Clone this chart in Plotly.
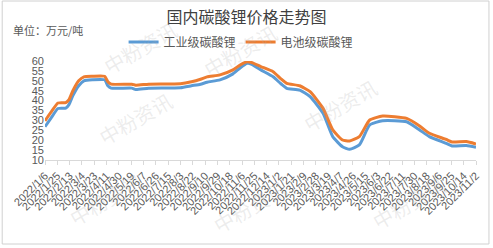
import plotly.graph_objects as go

dates = ["2022-01-06", "2022-01-15", "2022-01-26", "2022-02-07", "2022-02-12", "2022-02-18",
         "2022-02-27", "2022-03-07", "2022-03-20", "2022-04-08", "2022-04-13", "2022-04-18",
         "2022-05-20", "2022-05-26", "2022-06-15", "2022-08-03", "2022-08-20", "2022-09-03",
         "2022-09-13", "2022-10-03", "2022-10-23", "2022-11-03", "2022-11-14", "2022-11-20",
         "2022-12-05", "2022-12-24", "2023-01-05", "2023-01-14", "2023-02-03", "2023-02-19",
         "2023-03-11", "2023-03-26", "2023-04-10", "2023-04-21", "2023-05-06", "2023-05-22",
         "2023-06-11", "2023-07-18", "2023-08-07", "2023-08-22", "2023-09-17", "2023-09-26",
         "2023-10-18", "2023-11-02"]

industrial = [26.8, 31.0, 36.0, 36.2, 38.0, 42.5,
              47.5, 50.0, 50.5, 50.5, 47.5, 46.3,
              46.3, 45.6, 46.2, 46.5, 47.5, 48.3,
              49.3, 50.5, 53.5, 56.5, 58.8, 58.5,
              55.5, 52.0, 48.5, 46.2, 45.3, 42.0,
              33.6, 21.8, 16.7, 15.4, 17.6, 27.7,
              29.8, 29.3, 25.2, 21.8, 18.4, 17.1,
              17.3, 16.4]

battery = [29.8, 34.0, 38.8, 39.0, 40.5, 45.0,
           50.0, 52.0, 52.3, 52.3, 49.5, 48.3,
           48.3, 47.8, 48.3, 48.5, 49.5, 50.8,
           52.0, 53.0, 55.5, 58.0, 59.6, 59.3,
           57.2, 54.6, 51.0, 48.7, 47.5, 44.5,
           36.1, 25.2, 20.1, 19.6, 21.8, 30.2,
           32.2, 31.0, 27.2, 23.5, 20.4, 19.1,
           19.3, 18.1]

tick_dates = ["2022-01-06", "2022-01-25", "2022-02-13", "2022-03-04", "2022-03-23", "2022-04-11",
              "2022-04-30", "2022-05-19", "2022-06-07", "2022-06-26", "2022-07-15", "2022-08-03",
              "2022-08-22", "2022-09-10", "2022-09-29", "2022-10-18", "2022-11-06", "2022-11-25",
              "2022-12-14", "2023-01-02", "2023-01-21", "2023-02-09", "2023-02-28", "2023-03-19",
              "2023-04-07", "2023-04-26", "2023-05-15", "2023-06-03", "2023-06-22", "2023-07-11",
              "2023-07-30", "2023-08-18", "2023-09-06", "2023-09-25", "2023-10-14", "2023-11-02"]
tick_labels = ["2022/1/6", "2022/1/25", "2022/2/13", "2022/3/4", "2022/3/23", "2022/4/11",
               "2022/4/30", "2022/5/19", "2022/6/7", "2022/6/26", "2022/7/15", "2022/8/3",
               "2022/8/22", "2022/9/10", "2022/9/29", "2022/10/18", "2022/11/6", "2022/11/25",
               "2022/12/14", "2023/1/2", "2023/1/21", "2023/2/9", "2023/2/28", "2023/3/19",
               "2023/4/7", "2023/4/26", "2023/5/15", "2023/6/3", "2023/6/22", "2023/7/11",
               "2023/7/30", "2023/8/18", "2023/9/6", "2023/9/25", "2023/10/14", "2023/11/2"]

FONT = "Noto Sans CJK SC"
NUMFONT = "Liberation Sans"
W, H = 493, 248
L, R, T, B = 44, 16, 61, 88
pw, ph = W - L - R, H - T - B

def px(x):
    return (x - L) / pw

def py(y):
    return (H - B - y) / ph

fig = go.Figure()
fig.add_trace(go.Scatter(x=dates, y=industrial, name="工业级碳酸锂", mode="lines",
                         line=dict(color="#5B9BD5", width=3, shape="spline", smoothing=0.5)))
fig.add_trace(go.Scatter(x=dates, y=battery, name="电池级碳酸锂", mode="lines",
                         line=dict(color="#ED7D31", width=3, shape="spline", smoothing=0.5)))

# faint watermarks
marks = [(90, 118), (385, 70), (95, 12), (240, 15), (455, 238), (250, 242), (60, 235)]
for (mx, my) in marks:
    fig.add_annotation(x=px(mx), y=py(my), xref="paper", yref="paper", text="中粉资讯",
                       showarrow=False, textangle=-30,
                       font=dict(family=FONT, size=20, color="rgba(170,170,170,0.22)"))

fig.add_shape(type="rect", xref="paper", yref="paper",
              x0=px(1), x1=px(490), y0=py(244), y1=py(1),
              line=dict(color="#D0D0D0", width=1), layer="below")

fig.add_annotation(x=px(10), y=py(30), xref="paper", yref="paper", text="单位：万元/吨",
                   showarrow=False, xanchor="left", yanchor="middle",
                   font=dict(family=FONT, size=11, color="#595959"))

fig.update_layout(
    width=W, height=H,
    margin=dict(l=L, r=R, t=T, b=B),
    paper_bgcolor="white", plot_bgcolor="white",
    title=dict(text="国内碳酸锂价格走势图", x=0.5, xanchor="center", y=1 - 17 / H, yanchor="middle",
               font=dict(family=FONT, size=16, color="#404040")),
    legend=dict(orientation="h", x=px(241), xanchor="center", y=py(42), yanchor="middle",
                font=dict(family=FONT, size=12, color="#595959"), bgcolor="rgba(0,0,0,0)",
                itemwidth=30, tracegroupgap=0),
    showlegend=True,
)
fig.update_xaxes(type="date", range=["2022-01-06", "2023-11-02"], tickvals=tick_dates,
                 ticktext=tick_labels, tickangle=-45, showgrid=False, showline=True,
                 linecolor="#D9D9D9", linewidth=1, ticks="outside", tickcolor="#D9D9D9",
                 ticklen=4, tickfont=dict(family=NUMFONT, size=11, color="#595959"), zeroline=False)
fig.update_yaxes(range=[10, 60], dtick=5, showgrid=False, showline=False, zeroline=False,
                 tickfont=dict(family=NUMFONT, size=11, color="#595959"), ticks="")

fig.write_html("out.html")
